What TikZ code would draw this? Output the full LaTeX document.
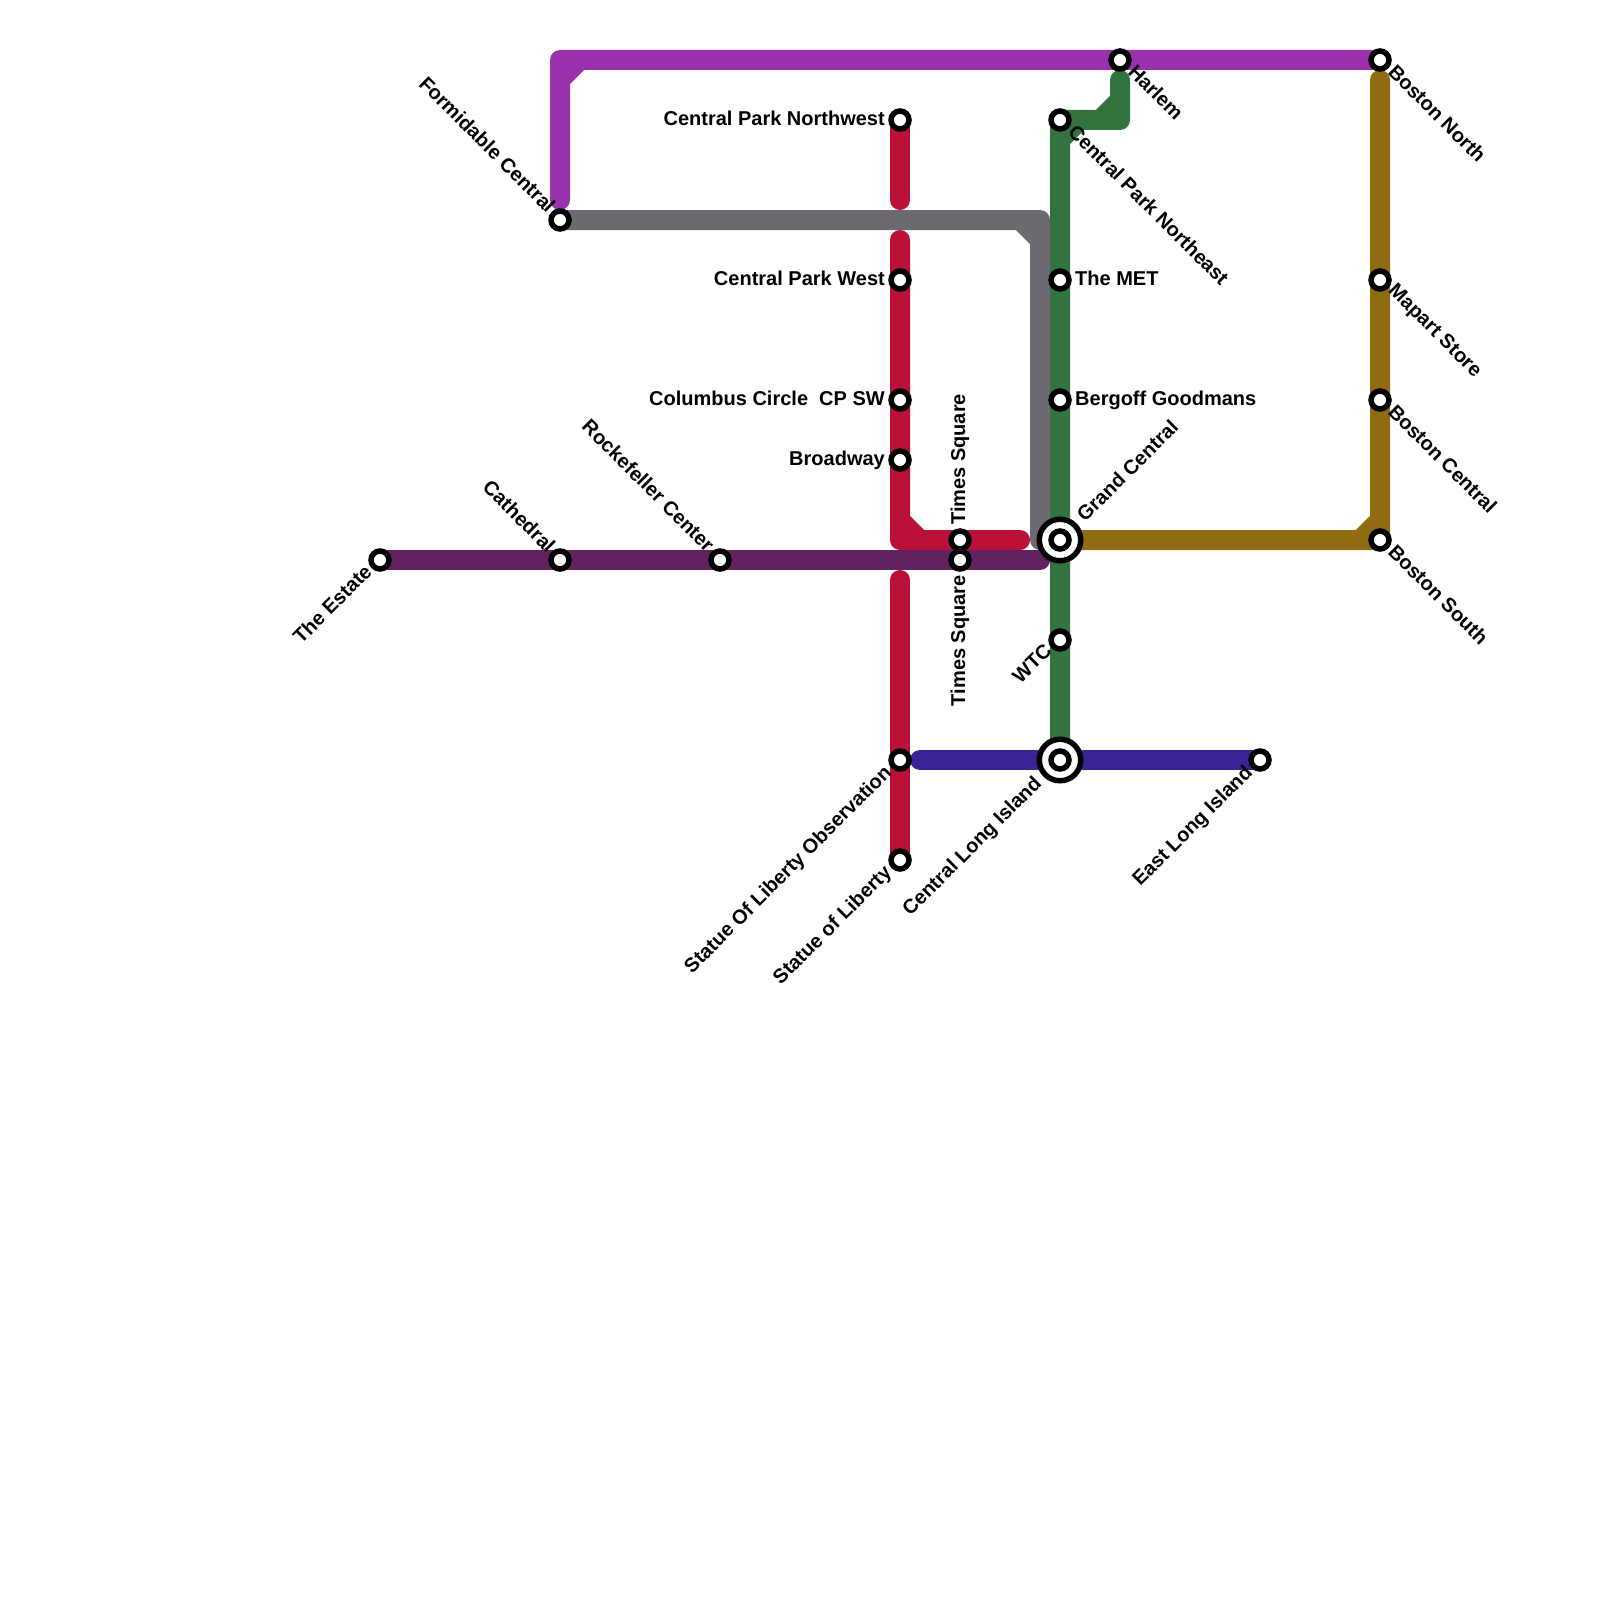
\documentclass[tikz,border=0pt]{standalone}
\usepackage{fontspec}
\setmainfont{Liberation Sans}
\usepackage{xcolor}
\usetikzlibrary{positioning,calc}

\definecolor{lnPurple}{HTML}{9932AC}
\definecolor{lnRed}{HTML}{BB1139}
\definecolor{lnGreen}{HTML}{33733F}
\definecolor{lnGray}{HTML}{6D6970}
\definecolor{lnGold}{HTML}{8F6C11}
\definecolor{lnNavy}{HTML}{3B2296}
\definecolor{lnPlum}{HTML}{62215F}

\pgfdeclarelayer{lines}
\pgfsetlayers{lines,main}

\tikzset{
	route/.style={line width=20pt,line cap=round,line join=round},
	stn/.style={circle,draw=black,fill=white,line width=5.5pt,minimum size=18pt,inner sep=0pt},
	hub/.style={circle,draw=black,fill=white,line width=5.5pt,minimum size=41.5pt,inner sep=0pt},
	lbl/.style={font=\fontsize{20}{24}\selectfont\bfseries,inner sep=0pt,text=black},
}

\begin{document}
\begin{tikzpicture}[x=1pt,y=-1pt]
	\useasboundingbox (0,0) rectangle (1600,1600);
	
	\coordinate (purpleStart) at (560,200);
	\coordinate (purpleBend) at (560,60);
	\coordinate (redTopEnd) at (900,200);
	\coordinate (redMidStart) at (900,240);
	\coordinate (redMidBend) at (900,540);
	\coordinate (redMidEnd) at (1020,540);
	\coordinate (redLowStart) at (900,580);
	\coordinate (grayBend) at (1040,220);
	\coordinate (grayEnd) at (1040,540);
	\coordinate (plumEnd) at (1040,560);
	\coordinate (navyStart) at (920,760);
	\coordinate (greenBend) at (1120,120);
	\coordinate (greenEnd) at (1120,80);
	\coordinate (goldBend) at (1380,540);
	\coordinate (goldEnd) at (1380,80);
	
	\foreach \s/\x/\y in {estate/380/560,cathedral/560/560,rockefeller/720/560,formidable/560/220,
		cpNorthwest/900/120,cpWest/900/280,columbus/900/400,broadway/900/460,libertyObs/900/760,
		liberty/900/860,timesUpper/960/540,timesLower/960/560,cpNortheast/1060/120,met/1060/280,
		bergoff/1060/400,wtc/1060/640,harlem/1120/60,eastIsland/1260/760,bostonNorth/1380/60,
		mapart/1380/280,bostonCentral/1380/400,bostonSouth/1380/540}
		\node[stn] (\s) at (\x,\y) {};
	
	\node[hub] (grandOuter) at (1060,540) {};
	\node[stn] (grandCentral) at (1060,540) {};
	\node[hub] (islandOuter) at (1060,760) {};
	\node[stn] (centralIsland) at (1060,760) {};
	
	% lines
	\begin{pgfonlayer}{lines}
	\draw[route,lnGray] (formidable.center) -- (grayBend) -- (grayEnd) (1020,220) -- (1040,240);
	\draw[route,lnRed] (cpNorthwest.center) -- (redTopEnd);
	\draw[route,lnRed] (redMidStart) -- (redMidBend) -- (redMidEnd) (900,520) -- (920,540);
	\draw[route,lnPlum] (estate.center) -- (plumEnd);
	\draw[route,lnRed] (redLowStart) -- (liberty.center);
	\draw[route,lnPurple] (purpleStart) -- (purpleBend) -- (bostonNorth.center) (560,80) -- (580,60);
	\draw[route,lnNavy] (navyStart) -- (eastIsland.center);
	\draw[route,lnGreen] (centralIsland.center) -- (cpNortheast.center) -- (greenBend) -- (greenEnd) (1100,120) -- (1120,100) (1060,140) -- (1080,120);
	\draw[route,lnGold] (grandCentral.center) -- (goldBend) -- (goldEnd) (1360,540) -- (1380,520);
	\end{pgfonlayer}
	
	% labels
	\node[lbl,anchor=base east] (lbNorthwest) at (885,125) {Central Park Northwest};
	\node[lbl,anchor=base east] (lbWest) at (885,285) {Central Park West};
	\node[lbl,anchor=base east] (lbColumbus) at (885,405) {Columbus Circle\ \ CP SW};
	\node[lbl,anchor=base east] (lbBroadway) at (885,465) {Broadway};
	\node[lbl,anchor=base west] (lbMet) at (1075,285) {The MET};
	\node[lbl,anchor=base west] (lbBergoff) at (1075,405) {Bergoff Goodmans};
	\node[lbl,anchor=west,rotate=90] (lbTimesUp) at (960,525) {Times Square};
	\node[lbl,anchor=east,rotate=90] (lbTimesLow) at (960,575) {Times Square};
	\node[lbl,anchor=west,rotate=45] (lbGrand) at (1080,518) {Grand Central};
	
	\node[lbl,anchor=east,rotate=-45] (lbFormidable) at (552,209) {Formidable Central};
	\node[lbl,anchor=east,rotate=-45] (lbCathedral) at (552,549) {Cathedral};
	\node[lbl,anchor=east,rotate=-45] (lbRockefeller) at (711,548) {Rockefeller Center};
	
	\node[lbl,anchor=east,rotate=45] (lbEstate) at (368,568) {The Estate};
	\node[lbl,anchor=east,rotate=45] (lbObs) at (889,770) {Statue Of Liberty Observation};
	\node[lbl,anchor=east,rotate=45] (lbLiberty) at (889,870) {Statue of Liberty};
	\node[lbl,anchor=east,rotate=45] (lbWtc) at (1048,647) {WTC};
	\node[lbl,anchor=east,rotate=45] (lbCentralIsland) at (1039,781) {Central Long Island};
	\node[lbl,anchor=east,rotate=45] (lbEastIsland) at (1250,770) {East Long Island};
	
	\node[lbl,anchor=west,rotate=-45] (lbHarlem) at (1132,68) {Harlem};
	\node[lbl,anchor=west,rotate=-45] (lbNortheast) at (1072,128) {Central Park Northeast};
	\node[lbl,anchor=west,rotate=-45] (lbBostonN) at (1392,68) {Boston North};
	\node[lbl,anchor=west,rotate=-45] (lbMapart) at (1391,288) {Mapart Store};
	\node[lbl,anchor=west,rotate=-45] (lbBostonC) at (1392,408) {Boston Central};
	\node[lbl,anchor=west,rotate=-45] (lbBostonS) at (1392,548) {Boston South};
\end{tikzpicture}
\end{document}
